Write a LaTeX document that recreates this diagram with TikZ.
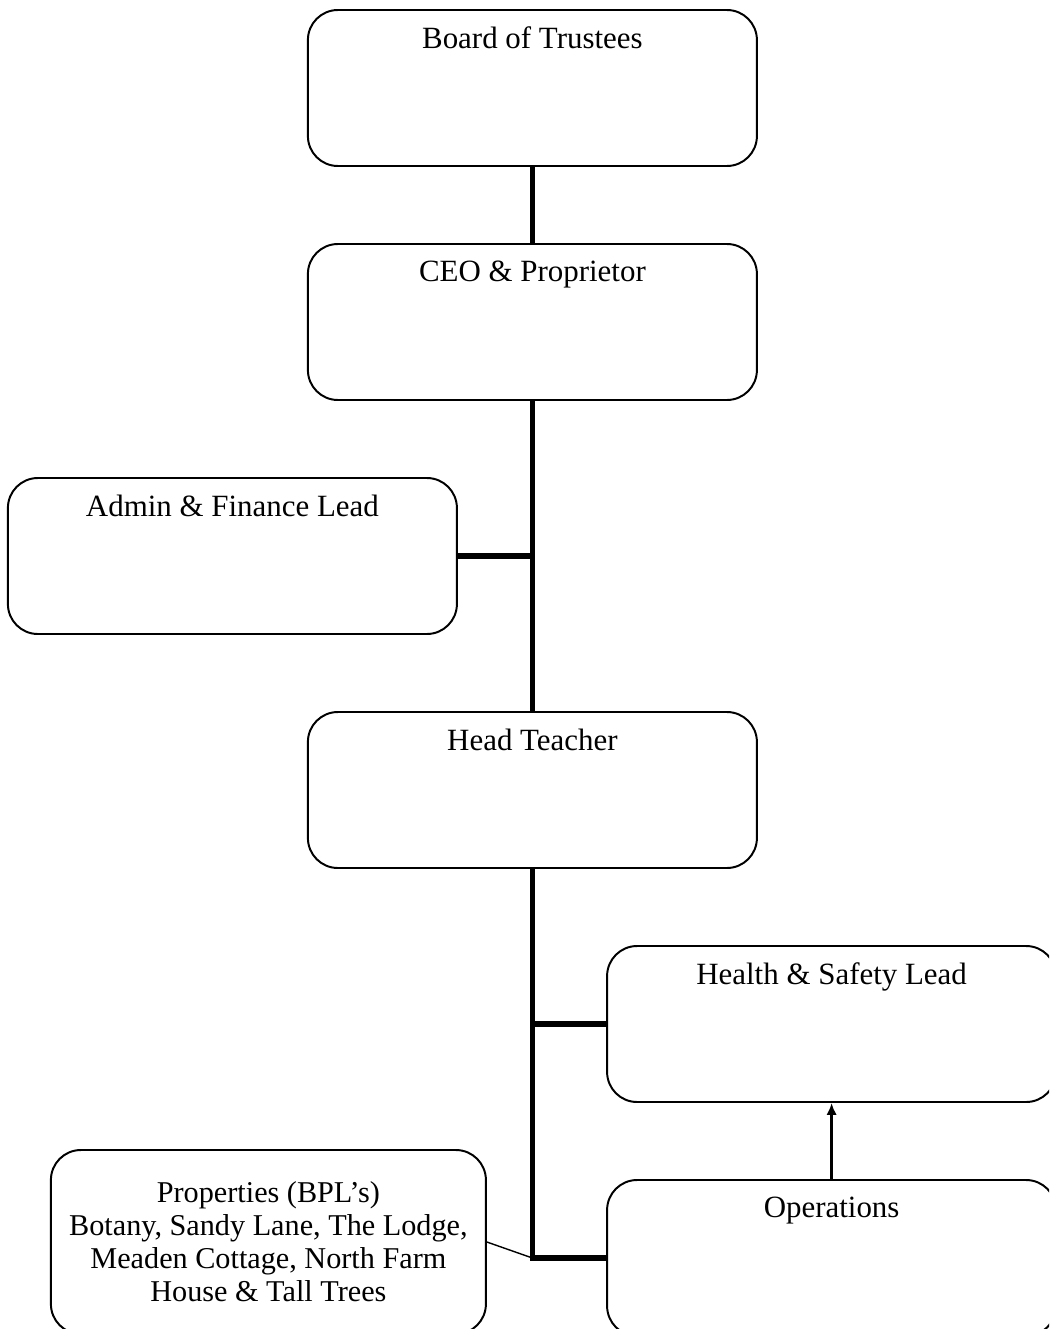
\documentclass[tikz,border=0pt]{standalone}
\usepackage{fontspec}
\setmainfont{Liberation Serif}
\usetikzlibrary{arrows.meta}
\tikzset{orgbox/.style = {draw, line width=1.4pt, rounded corners=0.75cm,
                          minimum width=11.225cm, minimum height=3.9cm,
                          inner sep=0pt, align=center,
                          font=\fontsize{21.5}{23.5}\selectfont}}
\tikzset{title/.style = {label={[anchor=north, inner sep=0pt, yshift=-0.44cm,
                                 font=\fontsize{22}{23.5}\selectfont]north:#1}}}
\tikzset{spine/.style = {line width=4pt}}
\tikzset{thin/.style = {line width=1pt}}
\tikzset{report/.style = {line width=1.6pt, -{Latex[length=3mm, width=2.6mm]}}}

\begin{document}
\begin{tikzpicture}
      \clip (0, 0) rectangle (26.225, -33.225);
      \fill [white] (0, 0) rectangle (26.225, -33.225);

      \node [orgbox, title={Board of Trustees}] (board) at (13.31, -2.2) {};
      \node [orgbox, title={CEO \& Proprietor}] (ceo) at (13.31, -8.05) {};
      \node [orgbox, title={Admin \& Finance Lead}] (admin) at (5.81, -13.9) {};
      \node [orgbox, title={Head Teacher}] (head) at (13.31, -19.75) {};
      \node [orgbox, title={Health \& Safety Lead}] (hs) at (20.79, -25.6) {};
      \node [orgbox, title={Operations}] (ops) at (20.79, -31.45) {};
      \node [orgbox, minimum width=10.875cm, minimum height=4.6cm] (props) at (6.71, -31.05)
            {Properties (BPL's)\\Botany, Sandy Lane, The Lodge,\\Meaden Cottage, North Farm\\House \& Tall Trees};

      \coordinate (join) at (head.south |- ops.west);

      \draw [spine] (board.south) -- (ceo.north);
      \draw [spine] (ceo.south) -- (head.north);
      \draw [spine] (admin.east) -- (admin.east -| ceo.south);
      \draw [spine] (head.south) -- (join) -- (ops.west);
      \draw [spine] (hs.west) -- (hs.west -| head.south);

      \draw [thin] (props.east) -- (join);
      \draw [report] (ops.north) -- (hs.south);
    \end{tikzpicture}
\end{document}
